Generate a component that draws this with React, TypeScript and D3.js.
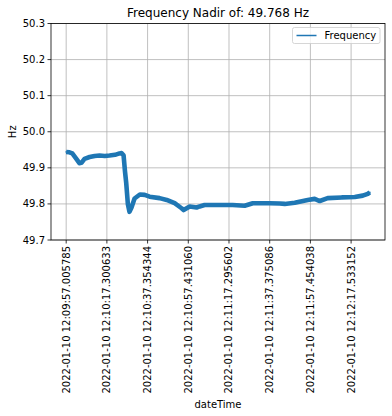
import React from "react";
import * as d3 from "d3";

const W = 392;
const H = 416;

// Sample index (x) and frequency in Hz (y)
const sampleIndex = [0, 16, 30, 50, 65, 75, 90, 115, 140, 164, 190, 213, 240, 262, 272, 282, 289, 295, 303, 311, 321, 336, 362, 386, 410, 459, 494, 533, 567, 577, 607, 641, 656, 680, 754, 818, 877, 917, 1000, 1049, 1074, 1123, 1187, 1221, 1246, 1285, 1354, 1418, 1457, 1482, 1492];
const frequency = [49.944, 49.943, 49.94, 49.925, 49.913, 49.914, 49.925, 49.930, 49.933, 49.934, 49.933, 49.934, 49.936, 49.940, 49.941, 49.935, 49.89, 49.858, 49.80, 49.778, 49.79, 49.815, 49.826, 49.825, 49.820, 49.816, 49.811, 49.802, 49.788, 49.783, 49.793, 49.790, 49.793, 49.797, 49.797, 49.797, 49.795, 49.802, 49.802, 49.801, 49.800, 49.803, 49.811, 49.814, 49.808, 49.816, 49.818, 49.819, 49.823, 49.828, 49.832];

const xTickIndex = [0, 200, 400, 600, 800, 1000, 1200, 1400];
const xTickLabels = [
  "2022-01-10 12:09:57.005785",
  "2022-01-10 12:10:17.300633",
  "2022-01-10 12:10:37.354344",
  "2022-01-10 12:10:57.431060",
  "2022-01-10 12:11:17.295602",
  "2022-01-10 12:11:37.375086",
  "2022-01-10 12:11:57.454038",
  "2022-01-10 12:12:17.533152",
];
const yTicks = [49.7, 49.8, 49.9, 50.0, 50.1, 50.2, 50.3];

const left = 51, right = 385, top = 23.5, bottom = 240;
const font = "DejaVu Sans, sans-serif";

export default function App() {
  const maxIdx = d3.max(sampleIndex) as number;
  const pad = maxIdx * 0.05;
  const x = d3.scaleLinear().domain([-pad, maxIdx + pad]).range([left, right]);
  const y = d3.scaleLinear().domain([49.7, 50.3]).range([bottom, top]);
  const pts = sampleIndex.map((s, i) => [s, frequency[i]] as [number, number]);
  const line = d3.line<[number, number]>().x((d) => x(d[0])).y((d) => y(d[1]));
  const path = line(pts) || "";

  return (
    <svg width={W} height={H} style={{ position: "absolute", left: 0, top: 0, background: "#fff" }} fontFamily={font}>
      <rect x={0} y={0} width={W} height={H} fill="#fff" />
      {/* grid */}
      {xTickIndex.map((t) => (
        <line key={"gx" + t} x1={x(t)} x2={x(t)} y1={top} y2={bottom} stroke="#b0b0b0" strokeWidth={0.8} />
      ))}
      {yTicks.map((t) => (
        <line key={"gy" + t} x1={left} x2={right} y1={y(t)} y2={y(t)} stroke="#b0b0b0" strokeWidth={0.8} />
      ))}
      {/* data */}
      <path d={path} fill="none" stroke="#1f77b4" strokeWidth={4.6} strokeLinejoin="round" strokeLinecap="butt" />
      <path d={path} fill="none" stroke="#1f77b4" strokeWidth={1.5} strokeLinejoin="round" strokeLinecap="square" />
      {/* spines */}
      <rect x={left} y={top} width={right - left} height={bottom - top} fill="none" stroke="#000" strokeWidth={0.8} />
      {/* y ticks */}
      {yTicks.map((t) => (
        <g key={"yt" + t}>
          <line x1={left - 3.5} x2={left} y1={y(t)} y2={y(t)} stroke="#000" strokeWidth={0.8} />
          <text x={left - 6} y={y(t)} dy="0.35em" textAnchor="end" fontSize={10} fill="#000">
            {t.toFixed(1)}
          </text>
        </g>
      ))}
      {/* x ticks */}
      {xTickIndex.map((t, i) => (
        <g key={"xt" + t}>
          <line x1={x(t)} x2={x(t)} y1={bottom} y2={bottom + 3.5} stroke="#000" strokeWidth={0.8} />
          <text
            transform={`translate(${x(t)},${bottom + 6}) rotate(-90)`}
            textAnchor="end"
            dy="0.35em"
            fontSize={10}
            fill="#000"
          >
            {xTickLabels[i]}
          </text>
        </g>
      ))}
      {/* labels */}
      <text x={(left + right) / 2} y={17} textAnchor="middle" fontSize={12} fill="#000">
        Frequency Nadir of: 49.768 Hz
      </text>
      <text x={(left + right) / 2} y={408} textAnchor="middle" fontSize={10} fill="#000">
        dateTime
      </text>
      <text transform={`translate(16,${(top + bottom) / 2}) rotate(-90)`} textAnchor="middle" fontSize={10} fill="#000">
        Hz
      </text>
      {/* legend */}
      <g>
        <rect x={292.5} y={27.5} width={87.5} height={16} rx={2} fill="#fff" fillOpacity={0.8} stroke="#cccccc" strokeWidth={0.8} />
        <line x1={296.5} x2={316.5} y1={35.5} y2={35.5} stroke="#1f77b4" strokeWidth={1.5} />
        <text x={324.5} y={35.5} dy="0.35em" fontSize={10} fill="#000">
          Frequency
        </text>
      </g>
    </svg>
  );
}
